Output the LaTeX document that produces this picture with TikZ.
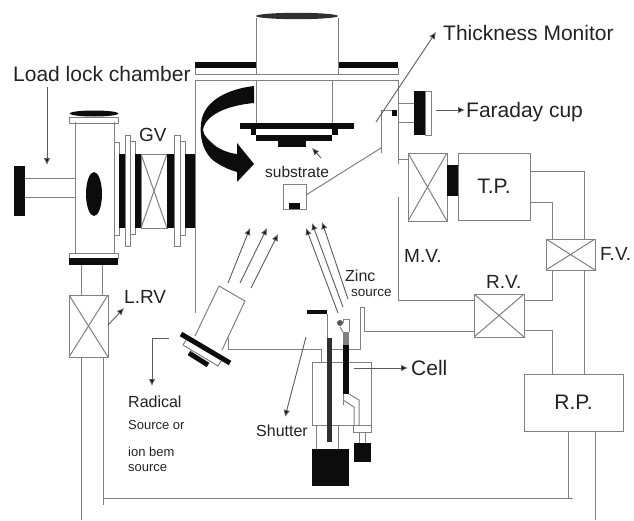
\documentclass[tikz,border=0pt]{standalone}
\usepackage{fontspec}
\setmainfont{Liberation Sans}
\usetikzlibrary{arrows.meta}
\definecolor{lncol}{HTML}{808080}
\definecolor{ink}{HTML}{0C0C0C}
\definecolor{txt}{HTML}{222222}
\tikzset{
  ln/.style={draw=lncol,line width=1pt},
  arr/.style={draw=lncol!70!black,line width=0.9pt,-{Latex[length=7pt,width=6.5pt,fill=ink]}},
  blk/.style={fill=ink,draw=none},
  box/.style={ln,rectangle,inner sep=0pt,outer sep=0pt,fill=white,text=txt,font=\fontsize{21}{21}\selectfont},
  valve/.style={box,path picture={\draw[ln] (path picture bounding box.north west)--(path picture bounding box.south east) (path picture bounding box.north east)--(path picture bounding box.south west);}},
  lab/.style={inner sep=0pt,anchor=base west,text=txt},
  big/.style={lab,font=\fontsize{21}{21}\selectfont},
  mid/.style={lab,font=\fontsize{19}{19}\selectfont},
  sml/.style={lab,font=\fontsize{16}{16}\selectfont},
  tiny/.style={lab,font=\fontsize{13}{13}\selectfont},
}
\begin{document}
\begin{tikzpicture}[x=1pt,y=-1pt]
\useasboundingbox (0,0) rectangle (634,520);
% ---------- load lock
\node[big] (loadlock) at (13,81) {Load lock chamber};
\coordinate (llfrom) at (47,87);
\coordinate (llto) at (47,165);
\draw[arr] (llfrom) -- (llto);
\fill[blk] (14,166) rectangle (25,216);
\draw[ln] (25,178) -- (75,178) (25,197) -- (75,197);
\draw[ln] (75,122) -- (75,253) (114,122) -- (114,253);
\fill[blk] (94,113.5) ellipse (24.5 and 3);
\draw[ln] (69,117) rectangle (118,123);
\draw[ln] (69,253) rectangle (118,258);
\fill[blk] (69,258) rectangle (118,265);
\fill[blk] (94,194) ellipse (8 and 22);
% gate valve
\draw[ln] (114,142) rectangle (119,235);
\fill[blk] (119,154) rectangle (125,228);
\draw[ln] (130,141) rectangle (135,234);
\draw[ln,fill=white] (125,135) rectangle (130,246);
\fill[blk] (135,154) rectangle (141,228);
\node[valve,minimum width=26pt,minimum height=74pt] (gv) at (154,191) {};
\fill[blk] (167,154) rectangle (174,228);
\draw[ln] (180,141) rectangle (185,235);
\draw[ln,fill=white] (174,135) rectangle (180,246);
\fill[blk] (185,154) rectangle (196,228);
\node[mid] (gvlab) at (139,141) {GV};
% ---------- main chamber
\draw[ln] (195,313) -- (195,80) -- (398,80) -- (398,164);
\draw[ln] (398,197) -- (398,300);
\fill[blk] (195,62) rectangle (256,68);
\fill[blk] (338,62) rectangle (398,68);
\draw[ln] (195,68) -- (195,74) -- (398,74) -- (398,68);
\draw[ln] (256,74) -- (256,18) (338,74) -- (338,18);
\fill[ink!85!white] (297,16) ellipse (41 and 3.2);
\draw[ln] (256,80) -- (256,124) (332,80) -- (332,124);
% substrate holder
\fill[blk] (240,123) rectangle (354,129);
\fill[blk] (251,129) rectangle (256,135);
\fill[blk] (332,129) rectangle (338,135);
\fill[blk] (256,135) rectangle (332,141);
\fill[blk] (278,141) rectangle (306,147);
% rotation arrow
\fill[blk] (254,86) .. controls (228,89) and (207,100) .. (202,118)
  .. controls (198,135) and (203,155) .. (217,163)
  .. controls (223,167) and (230,170) .. (237,172)
  -- (237,182) -- (254,164) -- (237,143) -- (237,154)
  .. controls (228,153) and (218,149) .. (212,143)
  .. controls (205,137) and (201,131) .. (204,126)
  .. controls (210,112) and (232,105) .. (254,103) -- cycle;
% substrate label and arrow
\node[sml,font=\fontsize{15.5}{15.5}\selectfont] (substrate) at (265,177) {substrate};
\coordinate (sfrom) at (321,158);
\coordinate (sto) at (312,148);
\draw[arr] (sfrom) -- (sto);
% monitor
\node[box,minimum width=23pt,minimum height=25pt] (crys) at (294.5,196.5) {};
\fill[blk] (289,203) rectangle (300,209);
\coordinate (monb) at (381,148);
\draw[ln] (crys.east |- 0,195) -- (monb);
\draw[ln] (381,153) -- (381,110) -- (392,110);
\fill[blk] (392,110) rectangle (397,116);
\coordinate (tmfrom) at (376,122);
\coordinate (tmto) at (436,32);
\draw[arr] (tmfrom) -- (tmto);
\node[big] (thick) at (443,40) {Thickness Monitor};
% faraday
\draw[ln] (398,103) -- (414,103) (398,122) -- (414,122);
\fill[blk] (414,91) rectangle (425,135);
\draw[ln] (425,91) rectangle (431,135);
\coordinate (ffrom) at (436,110);
\draw[arr] (ffrom) -- (465,110);
\node[big] (faraday) at (466,117) {Faraday cup};
% ---------- pumps and valves
\node[valve,minimum width=39pt,minimum height=68pt] (mv) at (427.5,187) {};
\fill[blk] (447,165) rectangle (458,196);
\node[box,minimum width=72pt,minimum height=67pt] (tp) at (494,186.5) {T.P.};
\node[valve,minimum width=49pt,minimum height=31pt] (fv) at (570.5,254.5) {};
\node[valve,minimum width=50pt,minimum height=43pt] (rv) at (499,315.5) {};
\node[box,minimum width=99pt,minimum height=57pt] (rp) at (573.5,402.5) {R.P.};
\node[valve,minimum width=39pt,minimum height=62pt] (lrv) at (88.5,326) {};
\draw[ln] (398,159) -- (mv.west |- 0,159);
\draw[ln] (tp.east |- 0,171) -- (584,171) -- (fv.north -| 584,0);
\draw[ln] (tp.east |- 0,202) -- (552,202) -- (fv.north -| 552,0);
\draw[ln] (fv.south -| 584,0) -- (rp.north -| 584,0);
\draw[ln] (fv.south -| 552,0) -- (552,300) -- (rv.east |- 0,300);
\draw[ln] (rv.east |- 0,330) -- (552,330) -- (rp.north -| 552,0);
\draw[ln] (398,300) -- (rv.west |- 0,300);
\draw[ln] (rp.south -| 568,0) -- (568,498);
\draw[ln] (103,498) -- (573,498);
\draw[ln] (rp.south -| 595,0) -- (595,520);
\draw[ln] (81,265) -- (lrv.north -| 81,0) (102,265) -- (lrv.north -| 102,0);
\draw[ln] (lrv.south -| 81,0) -- (81,520);
\draw[ln] (lrv.south -| 103,0) -- (103,505);
\coordinate (lrvto) at (124,308);
\draw[arr] (lrv.east |- 0,325) -- (lrvto);
\node[mid] (lrvlab) at (124,303) {L.RV};
\node[mid] (mvlab) at (404,262) {M.V.};
\node[mid] (fvlab) at (600,260) {F.V.};
\node[mid] (rvlab) at (486,288) {R.V.};
% ---------- radical source
\draw[ln] (195,336) -- (219,286) -- (245,301) -- (222,350);
\draw[ln] (183,345) -- (218,366) -- (221,361);
\draw[ln] (183,345) -- (186,340);
\draw[line width=5pt,draw=ink] (181,334) -- (230,363);
\draw[line width=5pt,draw=ink] (189,353) -- (208,365);
\draw[ln] (228,338) -- (228,349.5) -- (321,349.5) -- (321,362);
\draw[ln] (332,349.5) -- (360,349.5) -- (360,307) -- (364.5,307) -- (364.5,331) -- (rv.west |- 0,331);
\coordinate (rfrom) at (169,338);
\draw[arr] (rfrom) -- (152,338) -- (152,386);
\node[sml] (radical) at (128,407) {Radical};
\node[tiny] (sor) at (128,429) {Source or};
\node[tiny] (ion) at (128,456) {ion bem};
\node[tiny] (srcl) at (128,471) {source};
\foreach \a/\b/\c/\d in {228/283/250/228,240/283/267/228,251/288/278/234,338/313/306/228,343/307/312/223,348/299/322/222}
  \draw[arr] (\a,\b) -- (\c,\d);
% ---------- shutter
\fill[blk] (307,310) rectangle (327,314);
\draw[ln] (327,314) -- (327,340);
% ---------- cell
\node[box,fill=none,minimum width=59pt,minimum height=63pt] (cell) at (341.5,393.5) {};
\draw[ln] (353,425) -- (353,432) -- (371,432) -- (371,425);
\fill[ink!85!white] (327,338) rectangle (332,442);
\draw[ln] (316,425) -- (316,449) (338,425) -- (338,449);
\fill[blk] (312,449) rectangle (349,486);
\draw[ln] (359,432) -- (359,443) (365,432) -- (365,443);
\fill[blk] (354,443) rectangle (371,462);
\fill[blk] (343,345) rectangle (349,394);
\fill[lncol] (343,332) rectangle (349,345);
\draw[ln] (343,323) -- (343,319) -- (349,319) -- (349,332);
\draw[ln] (340,327) -- (343,332);
\fill[lncol!70!black] (340,323) circle (3);
\draw[ln] (349,394) -- (359,400) -- (359,425);
\draw[ln] (343,400) -- (354,407) -- (354,425);
\draw[ln] (343,394) -- (343,405);
\coordinate (cfrom) at (354,368);
\draw[arr] (cfrom) -- (408,368);
\node[big] (celllab) at (411,375) {Cell};
\coordinate (shfrom) at (306,337);
\draw[arr] (shfrom) -- (285,417);
\node[sml] (shutter) at (256,436) {Shutter};
\node[sml] (zinc) at (345,281) {Zinc};
\node[tiny,font=\fontsize{13.5}{13.5}\selectfont] (zsrc) at (351,296) {source};
\end{tikzpicture}
\end{document}
